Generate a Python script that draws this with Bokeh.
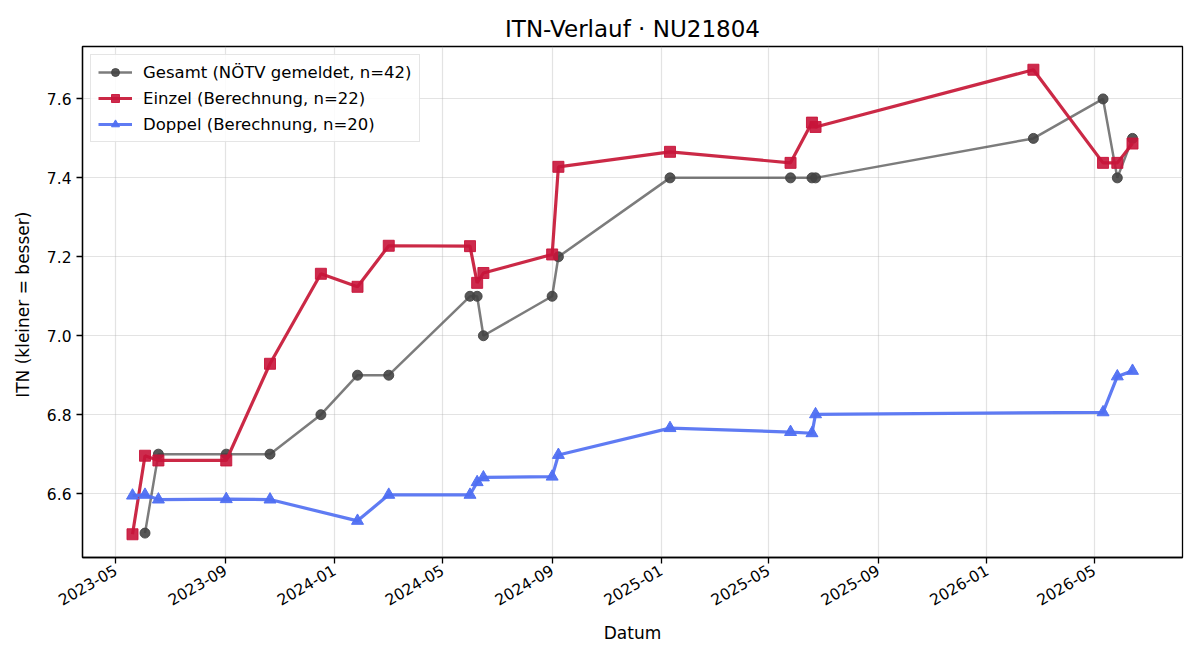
import math
import pandas as pd
from bokeh.plotting import figure
from bokeh.models import (ColumnDataSource, Range1d, DatetimeTickFormatter, MonthsTicker,
                          FixedTicker, NumeralTickFormatter, Legend, LegendItem)
from bokeh.embed import file_html
from bokeh.resources import INLINE

# ---- data ----
gesamt_dates = ["2023-06-03", "2023-06-18", "2023-09-02", "2023-10-21", "2023-12-17",
                "2024-01-27", "2024-03-02", "2024-06-01", "2024-06-09", "2024-06-16",
                "2024-09-01", "2024-09-08", "2025-01-11", "2025-05-26", "2025-06-19",
                "2025-06-23", "2026-02-22", "2026-05-11", "2026-05-27", "2026-06-13"]
gesamt_itn = [6.5, 6.7, 6.7, 6.7, 6.8, 6.9, 6.9, 7.1, 7.1, 7.0,
              7.1, 7.2, 7.4, 7.4, 7.4, 7.4, 7.5, 7.6, 7.4, 7.5]

einzel_dates = ["2023-05-20", "2023-06-03", "2023-06-18", "2023-09-02", "2023-10-21",
                "2023-12-17", "2024-01-27", "2024-03-02", "2024-06-01", "2024-06-09",
                "2024-06-16", "2024-09-01", "2024-09-08", "2025-01-11", "2025-05-26",
                "2025-06-19", "2025-06-23", "2026-02-22", "2026-05-11", "2026-05-27",
                "2026-06-13"]
einzel_itn = [6.497, 6.696, 6.684, 6.684, 6.929, 7.157, 7.124, 7.228, 7.227, 7.134,
              7.159, 7.206, 7.428, 7.466, 7.438, 7.540, 7.529, 7.674, 7.438, 7.438,
              7.487]

doppel_dates = ["2023-05-20", "2023-06-03", "2023-06-18", "2023-09-02", "2023-10-21",
                "2024-01-27", "2024-03-02", "2024-06-01", "2024-06-09", "2024-06-16",
                "2024-09-01", "2024-09-08", "2025-01-11", "2025-05-26", "2025-06-19",
                "2025-06-23", "2026-05-11", "2026-05-27", "2026-06-13"]
doppel_itn = [6.595, 6.597, 6.585, 6.586, 6.585, 6.531, 6.597, 6.597, 6.629, 6.641,
              6.643, 6.698, 6.766, 6.756, 6.753, 6.801, 6.806, 6.897, 6.911]

labels = ["Gesamt (NÖTV gemeldet, n=42)", "Einzel (Berechnung, n=22)", "Doppel (Berechnung, n=20)"]
y_ticks = [6.6, 6.8, 7.0, 7.2, 7.4, 7.6]

FONT = "DejaVu Sans"

src_g = ColumnDataSource(dict(x=pd.to_datetime(gesamt_dates), y=gesamt_itn))
src_e = ColumnDataSource(dict(x=pd.to_datetime(einzel_dates), y=einzel_itn))
src_d = ColumnDataSource(dict(x=pd.to_datetime(doppel_dates), y=doppel_itn))

all_d = pd.to_datetime(gesamt_dates + einzel_dates + doppel_dates)
dspan = all_d.max() - all_d.min()
all_v = gesamt_itn + einzel_itn + doppel_itn
vspan = max(all_v) - min(all_v)

p = figure(width=1200, height=660, x_axis_type="datetime", output_backend="svg",
           toolbar_location=None,
           x_range=Range1d(all_d.min() - 0.05 * dspan, all_d.max() + 0.05 * dspan),
           y_range=Range1d(min(all_v) - 0.05 * vspan, max(all_v) + 0.05 * vspan),
           min_border_left=82, min_border_right=18, min_border_top=46, min_border_bottom=103)

p.title.text = "ITN-Verlauf · NU21804"
p.title.align = "center"
p.title.text_font = FONT
p.title.text_font_size = "23px"
p.title.text_font_style = "normal"
p.title.text_color = "black"

p.outline_line_color = "black"
p.outline_line_width = 1.3
p.background_fill_color = "white"
p.border_fill_color = "white"

p.xaxis.ticker = MonthsTicker(months=[0, 4, 8])
p.xaxis.formatter = DatetimeTickFormatter(months="%Y-%m", days="%Y-%m", years="%Y-%m")
p.xaxis.major_label_orientation = math.pi / 6
p.yaxis.ticker = FixedTicker(ticks=y_ticks)
p.yaxis.formatter = NumeralTickFormatter(format="0.0")
p.xgrid.ticker = p.xaxis.ticker

for ax in (p.xaxis, p.yaxis):
    ax.axis_line_color = "black"
    ax.axis_line_width = 1.3
    ax.major_tick_line_color = "black"
    ax.major_tick_line_width = 1.3
    ax.major_tick_out = 6
    ax.major_tick_in = 0
    ax.minor_tick_out = 0
    ax.minor_tick_in = 0
    ax.major_label_text_font = FONT
    ax.major_label_text_font_size = "15.5px"
    ax.major_label_text_color = "black"
    ax.axis_label_text_font = FONT
    ax.axis_label_text_font_size = "17px"
    ax.axis_label_text_font_style = "normal"
    ax.axis_label_text_color = "black"

p.xaxis.axis_label = "Datum"
p.yaxis.axis_label = "ITN  (kleiner = besser)"
p.yaxis.axis_label_standoff = 11
p.xaxis.axis_label_standoff = 9

p.grid.grid_line_color = "#b0b0b0"
p.grid.grid_line_alpha = 0.35
p.grid.grid_line_width = 1.2

g_line = p.line("x", "y", source=src_g, line_color="#444444", line_alpha=0.7, line_width=2.5)
g_pts = p.scatter("x", "y", source=src_g, marker="circle", size=10,
                  fill_color="#444444", line_color="#444444", fill_alpha=0.9, line_alpha=0.9)

e_line = p.line("x", "y", source=src_e, line_color="#c81e3c", line_alpha=0.95, line_width=3.2)
e_pts = p.scatter("x", "y", source=src_e, marker="square", size=11,
                  fill_color="#c8143a", line_color="#c8143a", fill_alpha=0.9, line_alpha=0.9)

d_line = p.line("x", "y", source=src_d, line_color="#5674f2", line_alpha=0.95, line_width=3.2)
d_pts = p.scatter("x", "y", source=src_d, marker="triangle", size=12,
                  fill_color="#4f6ff2", line_color="#4f6ff2", fill_alpha=0.95, line_alpha=0.95)

legend = Legend(items=[LegendItem(label=labels[0], renderers=[g_line, g_pts]),
                       LegendItem(label=labels[1], renderers=[e_line, e_pts]),
                       LegendItem(label=labels[2], renderers=[d_line, d_pts])],
                location="top_left")
legend.label_text_font = FONT
legend.label_text_font_size = "16.5px"
legend.label_text_color = "black"
legend.border_line_color = "#cccccc"
legend.border_line_width = 1.2
legend.background_fill_alpha = 0.85
legend.glyph_width = 34
legend.glyph_height = 20
legend.label_height = 20
legend.spacing = 6
legend.padding = 7
legend.margin = 8
legend.label_standoff = 11
p.add_layout(legend)

open("out.html", "w").write(file_html(p, INLINE))
